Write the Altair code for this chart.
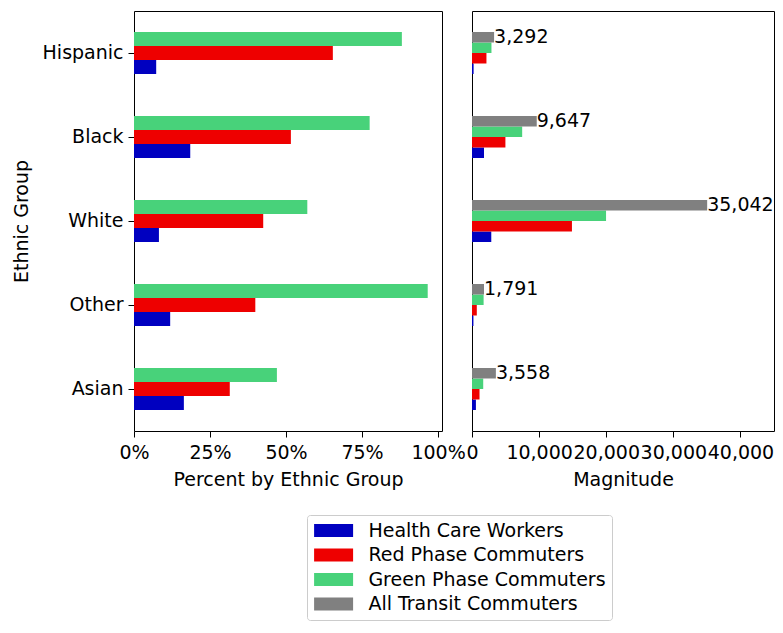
import altair as alt
import pandas as pd

groups = ["Hispanic", "Black", "White", "Other", "Asian"]
series = ["Health Care Workers", "Red Phase Commuters",
          "Green Phase Commuters", "All Transit Commuters"]
colors = ["#0000c0", "#ee0000", "#48d27a", "#808080"]

# share of each ethnic group (left panel), in percent
pct_health = [7.3, 18.5, 8.2, 11.9, 16.4]
pct_red = [65.4, 51.6, 42.5, 39.9, 31.5]
pct_green = [88.1, 77.5, 57.0, 96.6, 47.0]

# head counts (right panel)
mag_health = [240, 1785, 2873, 213, 583]
mag_red = [2153, 4978, 14893, 715, 1121]
mag_green = [2900, 7476, 19974, 1730, 1672]
mag_all = [3292, 9647, 35042, 1791, 3558]

pct_ticks = [0, 25, 50, 75, 100]
mag_ticks = [0, 10000, 20000, 30000, 40000]

pct_rows = []
mag_rows = []
for i, g in enumerate(groups):
    for s, v in zip(series[:3], [pct_health[i], pct_red[i], pct_green[i]]):
        pct_rows.append({"group": g, "series": s, "value": v})
    for s, v in zip(series, [mag_health[i], mag_red[i], mag_green[i], mag_all[i]]):
        mag_rows.append({"group": g, "series": s, "value": v})
pct_df = pd.DataFrame(pct_rows)
mag_df = pd.DataFrame(mag_rows)

y_scale = alt.Scale(domain=groups, paddingInner=0.5, paddingOuter=0.25)

color = alt.Color(
    "series:N",
    scale=alt.Scale(domain=series, range=colors),
    legend=alt.Legend(
        title=None,
        orient="none",
        legendX=173,
        legendY=504,
        labelFontSize=19,
        labelColor="black",
        labelLimit=0,
        symbolType="M-3,-1H3V1H-3Z",
        symbolSize=169,
        symbolStrokeWidth=0,
        symbolOpacity=1,
        symbolOffset=11.1,
        labelOffset=25.3,
        rowPadding=4.5,
        padding=6,
        strokeColor="#cccccc",
        cornerRadius=3,
        fillColor="white",
    ),
)

left = alt.Chart(pct_df).mark_bar().encode(
    x=alt.X(
        "value:Q",
        scale=alt.Scale(domain=[0, 101.3], nice=False),
        axis=alt.Axis(values=pct_ticks, labelExpr="datum.value + '%'",
                      title="Percent by Ethnic Group"),
    ),
    y=alt.Y("group:N", scale=y_scale, title="Ethnic Group",
            axis=alt.Axis(titlePadding=11, labelPadding=5)),
    yOffset=alt.YOffset("series:N", scale=alt.Scale(domain=series[2::-1])),
    color=color,
).properties(width=308, height=420)

right_bars = alt.Chart(mag_df).mark_bar().encode(
    x=alt.X(
        "value:Q",
        scale=alt.Scale(domain=[0, 45000], nice=False),
        axis=alt.Axis(values=mag_ticks, format=",d", title="Magnitude"),
    ),
    y=alt.Y("group:N", scale=y_scale, axis=None),
    yOffset=alt.YOffset("series:N", scale=alt.Scale(domain=series[::-1])),
    color=color,
)
right_text = alt.Chart(mag_df).transform_filter(
    alt.datum.series == "All Transit Commuters"
).mark_text(align="left", baseline="middle", dx=0, fontSize=19, color="black").encode(
    x="value:Q",
    y=alt.Y("group:N", scale=y_scale, axis=None),
    yOffset=alt.YOffset("series:N", scale=alt.Scale(domain=series[::-1])),
    text=alt.Text("value:Q", format=","),
)
right = alt.layer(right_bars, right_text).properties(width=302, height=420)

chart = alt.hconcat(left, right, spacing=30, bounds="flush").resolve_scale(
    yOffset="independent", x="independent", y="independent"
).properties(
    padding={"left": 3, "top": 2, "right": 0, "bottom": 0}
).configure(font="DejaVu Sans").configure_view(
    stroke="black", strokeWidth=1
).configure_axis(
    grid=False,
    domain=False,
    ticks=True,
    tickColor="black",
    tickSize=6,
    labelPadding=6,
    labelFontSize=19,
    labelColor="black",
    labelFlush=False,
    labelOverlap=False,
    titleFontSize=19,
    titleFontWeight="normal",
    titleColor="black",
    titlePadding=8,
)

chart.save("out.html", embed_options={"renderer": "svg", "actions": False})
